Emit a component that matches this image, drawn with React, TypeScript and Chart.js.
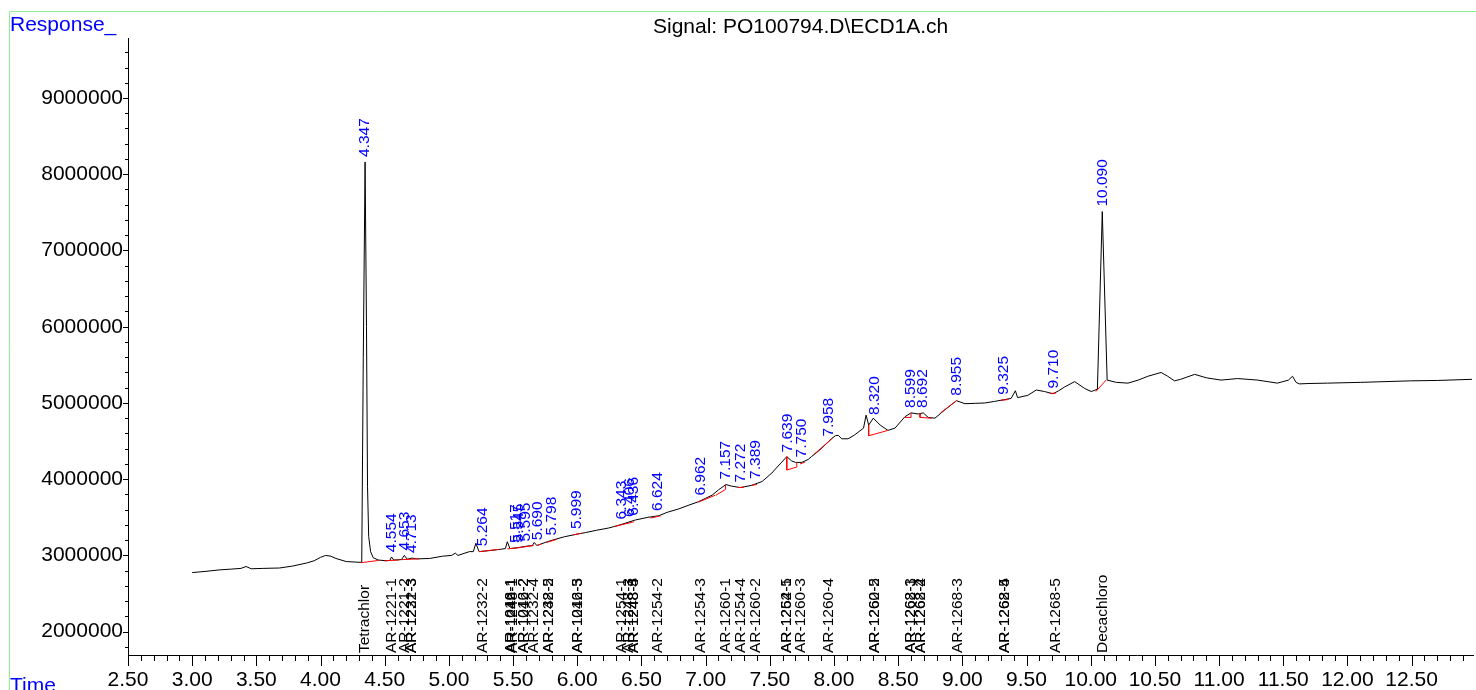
import React, { useEffect, useRef } from "react";
import { Chart, registerables } from "chart.js";

Chart.register(...registerables);

// ---- data (time in min, response in counts) ----
const traceTime = [
  3.0, 3.1, 3.21, 3.3, 3.38, 3.42, 3.46, 3.55, 3.68, 3.78, 3.89, 3.95, 4.0, 4.04, 4.08, 4.12, 4.2, 4.3,
  4.321, 4.333, 4.347, 4.358, 4.366, 4.375, 4.39, 4.41, 4.45, 4.51, 4.54, 4.553, 4.57, 4.63, 4.653, 4.675,
  4.713, 4.75, 4.85, 4.95, 5.02, 5.05, 5.07, 5.16, 5.19, 5.21, 5.235, 5.3, 5.4, 5.44, 5.455, 5.475, 5.53,
  5.6, 5.65, 5.665, 5.685, 5.75, 5.805, 5.9, 6.0, 6.065, 6.15, 6.245, 6.3, 6.35, 6.453, 6.55, 6.634, 6.7,
  6.79, 6.87, 6.945, 7.0, 7.05, 7.1, 7.158, 7.2, 7.27, 7.3, 7.36, 7.44, 7.515, 7.58, 7.632, 7.67, 7.7,
  7.75, 7.8, 7.827, 7.88, 7.95, 7.98, 8.01, 8.034, 8.06, 8.11, 8.16, 8.23, 8.25, 8.27, 8.306, 8.36, 8.42,
  8.475, 8.553, 8.6, 8.656, 8.695, 8.734, 8.786, 8.864, 8.954, 9.02, 9.1, 9.175, 9.25, 9.317, 9.38, 9.413,
  9.43, 9.51, 9.576, 9.64, 9.706, 9.75, 9.797, 9.875, 9.953, 10.004, 10.052, 10.09, 10.128, 10.2, 10.29,
  10.37, 10.445, 10.548, 10.6, 10.652, 10.7, 10.81, 10.9, 11.015, 11.145, 11.3, 11.455, 11.54, 11.572,
  11.6, 11.624, 11.7, 11.845, 12.1, 12.3, 12.49, 12.7, 12.97,
];

const traceResponse = [
  2775000, 2790000, 2810000, 2820000, 2830000, 2855000, 2825000, 2830000, 2835000, 2860000, 2900000,
  2930000, 2975000, 3000000, 2990000, 2960000, 2920000, 2910000,
  2910000, 5600000, 8160000, 6000000, 3900000, 3250000, 3050000, 2970000, 2940000, 2930000, 2935000,
  2980000, 2940000, 2945000, 3000000, 2950000,
  2965000, 2955000, 2960000, 2990000, 3000000, 3030000, 3000000, 3050000, 3050000, 3160000, 3050000,
  3060000, 3080000, 3090000, 3180000, 3090000, 3100000,
  3120000, 3130000, 3170000, 3130000, 3170000, 3200000, 3245000, 3280000, 3300000, 3330000, 3360000,
  3385000, 3410000, 3465000, 3500000, 3520000, 3565000,
  3610000, 3660000, 3705000, 3750000, 3790000, 3860000, 3930000, 3910000, 3890000, 3900000, 3920000,
  3970000, 4080000, 4200000, 4295000, 4240000, 4220000,
  4220000, 4260000, 4300000, 4370000, 4480000, 4530000, 4570000, 4575000, 4530000, 4530000, 4580000,
  4670000, 4840000, 4710000, 4800000, 4710000, 4640000,
  4670000, 4820000, 4870000, 4855000, 4870000, 4810000, 4800000, 4910000, 5030000, 4990000, 4995000,
  5000000, 5020000, 5040000, 5060000, 5160000,
  5070000, 5100000, 5170000, 5150000, 5120000, 5160000, 5210000, 5280000, 5190000, 5150000, 5180000,
  7510000, 5300000, 5270000, 5260000,
  5300000, 5350000, 5400000, 5350000, 5290000, 5310000, 5375000, 5330000, 5300000, 5320000, 5300000,
  5260000, 5300000, 5350000,
  5270000, 5250000, 5255000, 5260000, 5270000, 5280000, 5290000, 5295000, 5310000,
];

// integration baselines: each segment is a list of [time, response]
const baselineSegments: number[][][] = [
  [[4.315, 2905000], [4.457, 2935000]],
  [[4.5, 2930000], [4.61, 2940000]],
  [[4.63, 2945000], [4.77, 2955000]],
  [[5.235, 3050000], [5.39, 3080000]],
  [[5.455, 3085000], [5.56, 3105000]],
  [[5.56, 3105000], [5.66, 3130000]],
  [[5.685, 3130000], [5.72, 3150000]],
  [[5.76, 3170000], [5.84, 3210000]],
  [[5.97, 3270000], [6.03, 3290000]],
  [[6.29, 3380000], [6.44, 3440000]],
  [[6.57, 3490000], [6.65, 3520000]],
  [[6.945, 3700000], [7.075, 3790000]],
  [[7.08, 3790000], [7.155, 3865000], [7.155, 3925000]],
  [[7.25, 3890000], [7.3, 3895000]],
  [[7.36, 3920000], [7.4, 3930000]],
  [[7.632, 4295000], [7.632, 4120000], [7.71, 4160000], [7.71, 4220000]],
  [[7.736, 4200000], [7.775, 4225000]],
  [[7.84, 4320000], [7.99, 4540000]],
  [[8.27, 4710000], [8.27, 4570000], [8.42, 4640000]],
  [[8.55, 4810000], [8.6, 4810000], [8.6, 4870000]],
  [[8.67, 4860000], [8.67, 4810000], [8.76, 4800000]],
  [[8.83, 4870000], [8.955, 5030000]],
  [[9.3, 5035000], [9.36, 5045000]],
  [[9.68, 5125000], [9.73, 5130000]],
  [[10.04, 5150000], [10.12, 5300000]],
];

const peakTimes = [
  4.347, 4.554, 4.653, 4.713, 5.264, 5.517, 5.545, 5.595, 5.69, 5.798, 5.999, 6.343, 6.406, 6.436,
  6.624, 6.962, 7.157, 7.272, 7.389, 7.639, 7.75, 7.958, 8.32, 8.599, 8.692, 8.955, 9.325, 9.71, 10.09,
];

const compoundTimes = [
  4.347, 4.554, 4.653, 4.713, 4.713, 5.264, 5.48, 5.48, 5.5, 5.585, 5.585, 5.657, 5.78, 5.78, 6.0, 6.0,
  6.35, 6.4, 6.44, 6.44, 6.624, 6.962, 7.157, 7.272, 7.389, 7.632, 7.632, 7.737, 7.956, 8.32, 8.32, 8.6,
  8.6, 8.675, 8.675, 8.967, 9.33, 9.33, 9.73, 10.09,
];
const compoundNames = [
  "Tetrachlor", "AR-1221-1", "AR-1221-2", "AR-1221-3", "AR-1232-3", "AR-1232-2", "AR-1016-1",
  "AR-1242-1", "AR-1248-1", "AR-1016-2", "AR-1242-2", "AR-1232-4", "AR-1248-2", "AR-1232-5",
  "AR-1016-3", "AR-1242-5", "AR-1254-1", "AR-1248-3", "AR-1248-4", "AR-1248-5", "AR-1254-2",
  "AR-1254-3", "AR-1260-1", "AR-1254-4", "AR-1260-2", "AR-1254-5", "AR-1262-1", "AR-1260-3",
  "AR-1260-4", "AR-1260-5", "AR-1262-2", "AR-1268-1", "AR-1262-3", "AR-1268-2", "AR-1262-4",
  "AR-1268-3", "AR-1268-4", "AR-1262-5", "AR-1268-5", "Decachloro",
];

// axis ticks: minor every 0.1 min / 200000 counts, labelled every 0.5 min / 1000000 counts
const xTickValues: number[] = [];
for (let i = 25; i <= 129; i++) xTickValues.push(i / 10);
const yTickValues: number[] = [];
for (let i = 9; i <= 48; i++) yTickValues.push(i * 200000);

const titleText = "Signal: PO100794.D\\ECD1A.ch";
const yTitle = "Response_";
const xTitle = "Time";

const X_MIN = 2.5;
const X_MAX = 12.98;
const Y_MIN = 1694000;
const Y_MAX = 9787000;

const FONT = "'Liberation Sans', Arial, Helvetica, sans-serif";

function responseAt(t: number): number {
  if (t <= traceTime[0]) return traceResponse[0];
  for (let i = 1; i < traceTime.length; i++) {
    if (t <= traceTime[i]) {
      const t0 = traceTime[i - 1];
      const t1 = traceTime[i];
      const f = (t - t0) / (t1 - t0);
      return traceResponse[i - 1] + f * (traceResponse[i] - traceResponse[i - 1]);
    }
  }
  return traceResponse[traceResponse.length - 1];
}

const isMajorX = (v: number) => Math.round(v * 100) % 50 === 0;
const isMajorY = (v: number) => Math.abs(v / 1000000 - Math.round(v / 1000000)) < 1e-6;

const decorPlugin = {
  id: "decor",
  beforeDraw(chart: any) {
    const ctx = chart.ctx;
    ctx.save();
    ctx.strokeStyle = "#90ee90";
    ctx.lineWidth = 1;
    ctx.beginPath();
    ctx.moveTo(9.5, chart.height);
    ctx.lineTo(9.5, 11.5);
    ctx.lineTo(chart.width, 11.5);
    ctx.stroke();
    ctx.fillStyle = "#0000ff";
    ctx.font = `21px ${FONT}`;
    ctx.textAlign = "left";
    ctx.textBaseline = "alphabetic";
    ctx.fillText(yTitle, 10, 31);
    ctx.fillText(xTitle, 10, 692);
    ctx.restore();
  },
  afterDatasetsDraw(chart: any) {
    const ctx = chart.ctx;
    const xs = chart.scales.x;
    const ys = chart.scales.y;
    const area = chart.chartArea;
    ctx.save();
    ctx.font = `15.5px ${FONT}`;
    ctx.textAlign = "left";
    ctx.textBaseline = "middle";
    ctx.fillStyle = "#0000ff";
    peakTimes.forEach((t) => {
      const x = xs.getPixelForValue(t);
      const y = ys.getPixelForValue(responseAt(t)) - 5;
      ctx.save();
      ctx.translate(x, y);
      ctx.rotate(-Math.PI / 2);
      ctx.fillText(t.toFixed(3), 0, 0);
      ctx.restore();
    });
    ctx.fillStyle = "#000000";
    compoundTimes.forEach((t, i) => {
      const x = xs.getPixelForValue(t);
      const y = area.bottom - 2;
      ctx.save();
      ctx.translate(x, y);
      ctx.rotate(-Math.PI / 2);
      ctx.fillText(compoundNames[i], 0, 0);
      ctx.restore();
    });
    ctx.restore();
  },
  afterDraw(chart: any) {
    const ctx = chart.ctx;
    const xs = chart.scales.x;
    const ys = chart.scales.y;
    const area = chart.chartArea;
    ctx.save();
    ctx.strokeStyle = "#000";
    ctx.lineWidth = 1;
    ctx.beginPath();
    xs.ticks.forEach((tk: any) => {
      const v = tk.value;
      const x = Math.round(xs.getPixelForValue(v)) + 0.5;
      ctx.moveTo(x, area.bottom);
      ctx.lineTo(x, area.bottom + (isMajorX(v) ? 11 : 6));
    });
    ys.ticks.forEach((tk: any) => {
      const v = tk.value;
      const y = Math.round(ys.getPixelForValue(v)) + 0.5;
      ctx.moveTo(area.left, y);
      ctx.lineTo(area.left - (isMajorY(v) ? 5 : 3), y);
    });
    ctx.stroke();
    ctx.restore();
  },
};

export default function App() {
  const ref = useRef<HTMLCanvasElement | null>(null);
  useEffect(() => {
    if (!ref.current) return;
    Chart.defaults.font.family = FONT;
    const traceData = traceTime.map((t, i) => ({ x: t, y: traceResponse[i] }));
    const baseData: any[] = [];
    baselineSegments.forEach((seg) => {
      seg.forEach((p) => baseData.push({ x: p[0], y: p[1] }));
      baseData.push({ x: seg[seg.length - 1][0], y: null });
    });
    const chart = new Chart(ref.current, {
      type: "line",
      data: {
        datasets: [
          {
            label: "baseline",
            data: baseData,
            borderColor: "#ff0000",
            borderWidth: 1,
            pointRadius: 0,
            spanGaps: false,
            tension: 0,
          },
          {
            label: "signal",
            data: traceData,
            borderColor: "#000000",
            borderWidth: 1,
            pointRadius: 0,
            tension: 0,
          },
        ],
      },
      options: {
        responsive: false,
        animation: false,
        events: [],
        layout: { padding: 0 },
        plugins: {
          legend: { display: false },
          tooltip: { enabled: false },
          title: {
            display: true,
            text: titleText,
            fullSize: false,
            color: "#000",
            font: { size: 21, family: FONT, weight: "normal", lineHeight: 1.0 },
            padding: { top: 17, bottom: 0 },
          },
        },
        scales: {
          x: {
            type: "linear",
            min: X_MIN,
            max: X_MAX,
            grid: { display: false, drawTicks: false },
            border: { display: true, color: "#000", width: 1 },
            afterBuildTicks: (s: any) => {
              s.ticks = xTickValues.map((v) => ({ value: v }));
            },
            afterFit: (s: any) => {
              s.height = 35;
            },
            ticks: {
              autoSkip: false,
              maxRotation: 0,
              minRotation: 0,
              padding: 13,
              color: "#000",
              font: { size: 21, family: FONT, lineHeight: 1.2 },
              callback: (v: any) => {
                const n = Number(v);
                return isMajorX(n) ? n.toFixed(2) : "";
              },
            },
          },
          y: {
            type: "linear",
            min: Y_MIN,
            max: Y_MAX,
            grid: { display: false, drawTicks: false },
            border: { display: true, color: "#000", width: 1 },
            afterBuildTicks: (s: any) => {
              s.ticks = yTickValues.map((v) => ({ value: v }));
            },
            afterFit: (s: any) => {
              s.width = 128;
            },
            ticks: {
              autoSkip: false,
              padding: 5,
              color: "#000",
              font: { size: 21, family: FONT, lineHeight: 1.2 },
              callback: (v: any) => {
                const n = Number(v);
                return isMajorY(n) ? String(Math.round(n)) : "";
              },
            },
          },
        },
      },
      plugins: [decorPlugin],
    });
    return () => chart.destroy();
  }, []);
  return (
    <div style={{ position: "absolute", left: 0, top: 0, width: 1476, height: 690, background: "#fff" }}>
      <canvas ref={ref} width={1476} height={690} style={{ display: "block" }} />
    </div>
  );
}
